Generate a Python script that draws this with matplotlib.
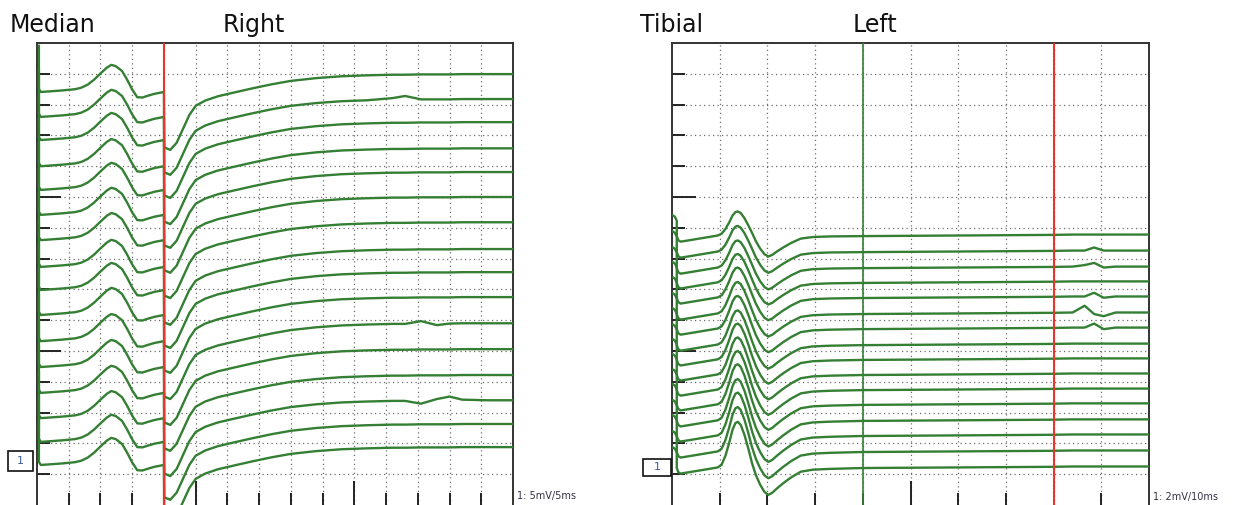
import numpy as np
import matplotlib
matplotlib.use("Agg")
import matplotlib.pyplot as plt
from matplotlib.ticker import FixedLocator
from matplotlib.patches import Rectangle

# ---- data (x in ms, y in screen divisions) ----
# Median / Right : 5 mV/div, 5 ms/div, 16 stacked traces
med_baselines = [13.41, 12.60, 11.85, 11.00, 10.23, 9.42, 8.60, 7.73,
                 6.98, 6.17, 5.32, 4.48, 3.64, 2.82, 2.05, 1.30]
# M-wave part, before the red cursor (rel. to baseline)
med_m_t = [0.3, 0.3, 0.6, 2.0, 4.0, 6.0, 7.0, 8.0, 9.0, 10.0, 11.0, 11.7,
           12.4, 13.4, 14.2, 15.0, 15.8, 16.6, 17.5, 18.5, 19.5, 20.0]
med_m_v = [1.5, 0.1, 0.0, 0.02, 0.05, 0.09, 0.14, 0.24, 0.40, 0.60, 0.79, 0.88,
           0.84, 0.68, 0.40, 0.08, -0.17, -0.18, -0.12, -0.06, -0.02, 0.0]
# late part, after the red cursor
med_f_t = [20.05, 21.0, 22.0, 23.0, 24.0, 25.0, 26.5, 28.5, 31.0, 34.0, 37.0,
           40.0, 44.0, 48.0, 52.0, 56.0, 58.0, 60.5, 63.0, 65.0, 67.0, 71.0, 75.0]
med_f_v = [-1.80, -1.88, -1.65, -1.20, -0.75, -0.45, -0.28, -0.14, -0.02, 0.12, 0.25,
           0.36, 0.45, 0.51, 0.54, 0.56, 0.56, 0.57, 0.57, 0.57, 0.58, 0.58, 0.58]
med_bumps = {1: {56.0: 0.05, 58.0: 0.12},
             10: {60.5: 0.08, 63.0: -0.05},
             13: {60.5: -0.10, 63.0: 0.05, 65.0: 0.13, 67.0: 0.02}}

# Tibial / Left : 2 mV/div, 10 ms/div, 16 stacked traces
tib_levels = [8.78, 8.26, 7.74, 7.26, 6.77, 6.25, 5.76, 5.24,
              4.76, 4.27, 3.78, 3.30, 2.78, 2.29, 1.77, 1.25]
tib_t = [0.2, 0.6, 1.0, 1.0, 1.3, 1.8, 3.8, 6.9, 9.6, 10.4, 11.2, 12.0, 12.7,
         13.3, 13.8, 14.4, 15.2, 16.0, 16.8, 17.6, 18.5, 19.4, 20.2, 21.0, 22.0,
         23.3, 25.0, 27.0, 29.5, 33.1, 39.8, 50.0, 60.0, 70.0, 80.0, 84.0, 86.5,
         88.5, 90.5, 93.0, 100.0]
tib_v = [0.62, 0.58, 0.45, -0.05, -0.18, -0.23, -0.18, -0.10, -0.03, 0.03, 0.18,
         0.40, 0.62, 0.73, 0.75, 0.70, 0.53, 0.30, 0.05, -0.22, -0.46, -0.64, -0.71,
         -0.66, -0.55, -0.42, -0.27, -0.13, -0.08, -0.06, -0.05, -0.04, -0.03, -0.02,
         -0.01, 0.0, 0.0, 0.0, 0.0, 0.0, 0.0]
tib_peak = [0.75, 0.80, 0.85, 0.89, 0.94, 0.99, 1.03, 1.08,
            1.13, 1.17, 1.22, 1.27, 1.31, 1.36, 1.41, 1.45]
tib_trough = [0.71, 0.72, 0.74, 0.75, 0.77, 0.78, 0.80, 0.81,
              0.82, 0.84, 0.85, 0.86, 0.88, 0.89, 0.90, 0.92]
tib_bumps = {1: {88.5: 0.10},
             2: {86.5: 0.05, 88.5: 0.12, 90.5: -0.03},
             4: {88.5: 0.12, 90.5: -0.04},
             5: {86.5: 0.22, 88.5: -0.05, 90.5: -0.12},
             6: {88.5: 0.13, 90.5: -0.05}}

GREEN = "#347f34"
RED = "#e8362b"
W, H = 1238, 505

fig = plt.figure(figsize=(W / 100, H / 100), dpi=100)
ax1 = fig.add_axes([37 / W, 0, 476 / W, 1 - 43 / H])
ax2 = fig.add_axes([672 / W, 0, 477 / W, 1 - 43 / H])


def style(ax, xmax, xmajor, xminor):
    ax.set_xlim(0, xmax)
    ax.set_ylim(0, 15)
    ax.xaxis.set_major_locator(FixedLocator(xmajor))
    ax.xaxis.set_minor_locator(FixedLocator(xminor))
    ax.yaxis.set_major_locator(FixedLocator([5, 10]))
    ax.yaxis.set_minor_locator(FixedLocator(range(1, 15)))
    ax.tick_params(which="both", direction="in", color="#222222", width=1.4,
                   labelbottom=False, labelleft=False, top=False, right=False)
    ax.tick_params(which="major", length=17)
    ax.tick_params(which="minor", length=9)
    ax.grid(True, which="both", color="#6e6e6e", lw=0.9, ls=(0, (1, 2.6)))
    ax.set_axisbelow(True)
    for s in ["left", "top", "right"]:
        ax.spines[s].set_color("#333333")
        ax.spines[s].set_linewidth(1.4)
    ax.spines["bottom"].set_visible(False)


style(ax1, 75, [25, 50], list(range(5, 75, 5)))
style(ax2, 100, [50], list(range(10, 100, 10)))

# Median traces
for i, b in enumerate(med_baselines):
    late = np.array(med_f_v)
    for t, dv in med_bumps.get(i, {}).items():
        late[med_f_t.index(t)] += dv
    t_all = med_m_t + med_f_t
    v_all = np.concatenate([med_m_v, late]) + b
    ax1.plot(t_all, v_all, color=GREEN, lw=1.7, zorder=3)
ax1.axvline(20, color=RED, lw=1.5, zorder=4)

# Tibial traces
tv = np.array(tib_v)
tt = np.array(tib_t)
for i, lev in enumerate(tib_levels):
    v = tv.copy()
    pk = (tt >= 10) & (tt <= 17.5) & (tv > 0)
    tr = (tt >= 17) & (tt <= 34) & (tv < 0)
    v[pk] = tv[pk] * tib_peak[i] / 0.75
    v[tr] = tv[tr] * tib_trough[i] / 0.71
    for t, dv in tib_bumps.get(i, {}).items():
        v[tib_t.index(t)] += dv
    ax2.plot(tt, v + lev, color=GREEN, lw=1.7, zorder=3)
ax2.axvline(40, color=GREEN, lw=1.2, zorder=4)
ax2.axvline(80, color=RED, lw=1.5, zorder=4)

# titles
tkw = dict(fontsize=17, color="#111111", va="baseline", ha="left")
yb = 1 - 32 / H
fig.text(10 / W, yb, "Median", **tkw)
fig.text(223 / W, yb, "Right", **tkw)
fig.text(640 / W, yb, "Tibial", **tkw)
fig.text(853 / W, yb, "Left", **tkw)

# channel boxes
for x0, y0, w, h in [(8, 451, 25, 20), (643, 459, 28, 17)]:
    fig.add_artist(Rectangle((x0 / W, 1 - (y0 + h) / H), w / W, h / H,
                             transform=fig.transFigure, fill=False,
                             edgecolor="#111111", lw=1.2))
    fig.text((x0 + w / 2) / W, 1 - (y0 + h / 2) / H, "1", fontsize=8,
             color="#3a5a9a", ha="center", va="center")

# scale labels
fig.text(517 / W, 1 - 496 / H, "1: 5mV/5ms", fontsize=7, color="#333344",
         ha="left", va="center")
fig.text(1153 / W, 1 - 497 / H, "1: 2mV/10ms", fontsize=7, color="#333344",
         ha="left", va="center")

fig.savefig("out.png", dpi=100)
